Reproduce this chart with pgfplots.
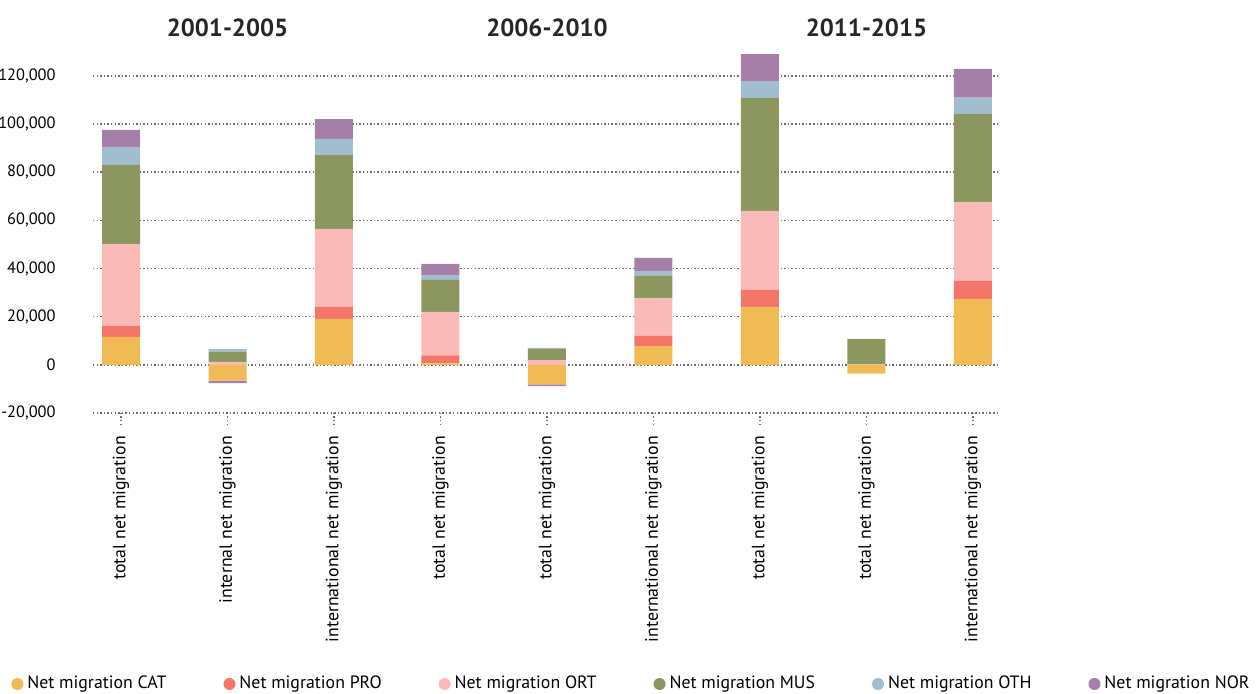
\documentclass[border=0pt]{standalone}
\usepackage{fontspec}
\setmainfont{PT Sans}
\usepackage{pgfplots}
\usepackage{pgfplotstable}
\pgfplotsset{compat=1.18}
\definecolor{catcol}{RGB}{240,187,85}
\definecolor{procol}{RGB}{243,118,104}
\definecolor{ortcol}{RGB}{249,186,184}
\definecolor{muscol}{RGB}{139,151,94}
\definecolor{othcol}{RGB}{161,189,206}
\definecolor{norcol}{RGB}{166,127,168}
\definecolor{gridcol}{RGB}{110,110,110}

% positive parts of each stack
\pgfplotstableread{
x cat pro ort mus oth nor
0 11600 4600 34000 32800 7500 7000
1 0 0 1200 4100 1200 0
2 19100 5000 32300 30700 6700 8200
3 600 3300 18100 13300 2000 4600
4 0 0 2000 4700 300 0
5 7900 4100 15800 9100 2100 5400
6 24100 7000 32800 46900 7000 11200
7 0 0 300 10500 0 0
8 27400 7500 32800 36500 6700 12000
}\posdata

% negative parts, stacked downward from zero
\pgfplotstableread{
x cat nor
1 -6600 -1000
4 -8100 -700
7 -3700 0
}\negdata

\pgfplotsset{
  base/.style={
    scale only axis,
    width=453.5pt, height=180.65pt,
    xmin=-0.263, xmax=8.254,
    ymin=-20000, ymax=130000,
    ybar stacked, bar width=19pt,
    axis line style={draw=none},
  },
}
\newcommand{\lblfont}{\fontsize{8.9}{10}\selectfont}

\begin{document}
\begin{tikzpicture}
\useasboundingbox (-46.5pt,-140pt) rectangle (583.5pt,206.5pt);
\clip (-46.5pt,-140pt) rectangle (583.5pt,206.5pt);
\begin{axis}[
  base,
  clip=false,
  scaled y ticks=false,
  ytick={-20000,0,20000,40000,60000,80000,100000,120000},
  yticklabels={\mbox{-20,000},\mbox{0},\mbox{20,000},\mbox{40,000},\mbox{60,000},\mbox{80,000},\mbox{100,000},\mbox{120,000}},
  ymajorgrids,
  major grid style={gridcol, line width=0.75pt, dash pattern=on 0.75pt off 1.05pt},
  ytick style={draw=none},
  yticklabel style={font=\fontsize{8.2}{10}\selectfont, anchor=east, inner sep=0pt},
  yticklabel shift=12.5pt,
  xtick={0,1,2,3,4,5,6,7,8},
  xtick pos=bottom,
  xticklabels={total net migration, internal net migration, international net migration,
    total net migration, total net migration, international net migration,
    total net migration, total net migration, international net migration},
  xtick style={gridcol, line width=0.75pt, dash pattern=on 0.75pt off 1.05pt},
  tick align=outside,
  major tick length=6pt,
  xticklabel style={rotate=90, anchor=east, font=\lblfont},
  xticklabel shift=2pt,
  legend style={at={(-0.0904,-0.750)}, anchor=west, draw=none, fill=none,
    legend columns=6, font=\lblfont, inner sep=0pt,
    /tikz/every even column/.append style={column sep=26.5pt}},
  legend image code/.code={\fill[#1] (0pt,0pt) circle (3pt);},
]
\addplot[fill=catcol, draw=none] table[x=x, y=cat] {\posdata};
\addplot[fill=procol, draw=none] table[x=x, y=pro] {\posdata};
\addplot[fill=ortcol, draw=none] table[x=x, y=ort] {\posdata};
\addplot[fill=muscol, draw=none] table[x=x, y=mus] {\posdata};
\addplot[fill=othcol, draw=none] table[x=x, y=oth] {\posdata};
\addplot[fill=norcol, draw=none] table[x=x, y=nor] {\posdata};
\legend{Net migration CAT, Net migration PRO, Net migration ORT,
  Net migration MUS, Net migration OTH, Net migration NOR}
\node[font=\fontsize{12.4}{14}\selectfont\bfseries, text=black!85] at (axis cs:1,139800) {2001-2005};
\node[font=\fontsize{12.4}{14}\selectfont\bfseries, text=black!85] at (axis cs:4,139800) {2006-2010};
\node[font=\fontsize{12.4}{14}\selectfont\bfseries, text=black!85] at (axis cs:7,139800) {2011-2015};
\end{axis}
\begin{axis}[base, hide axis]
\addplot[fill=catcol, draw=none] table[x=x, y=cat] {\negdata};
\addplot[fill=norcol, draw=none] table[x=x, y=nor] {\negdata};
\end{axis}
\end{tikzpicture}
\end{document}
